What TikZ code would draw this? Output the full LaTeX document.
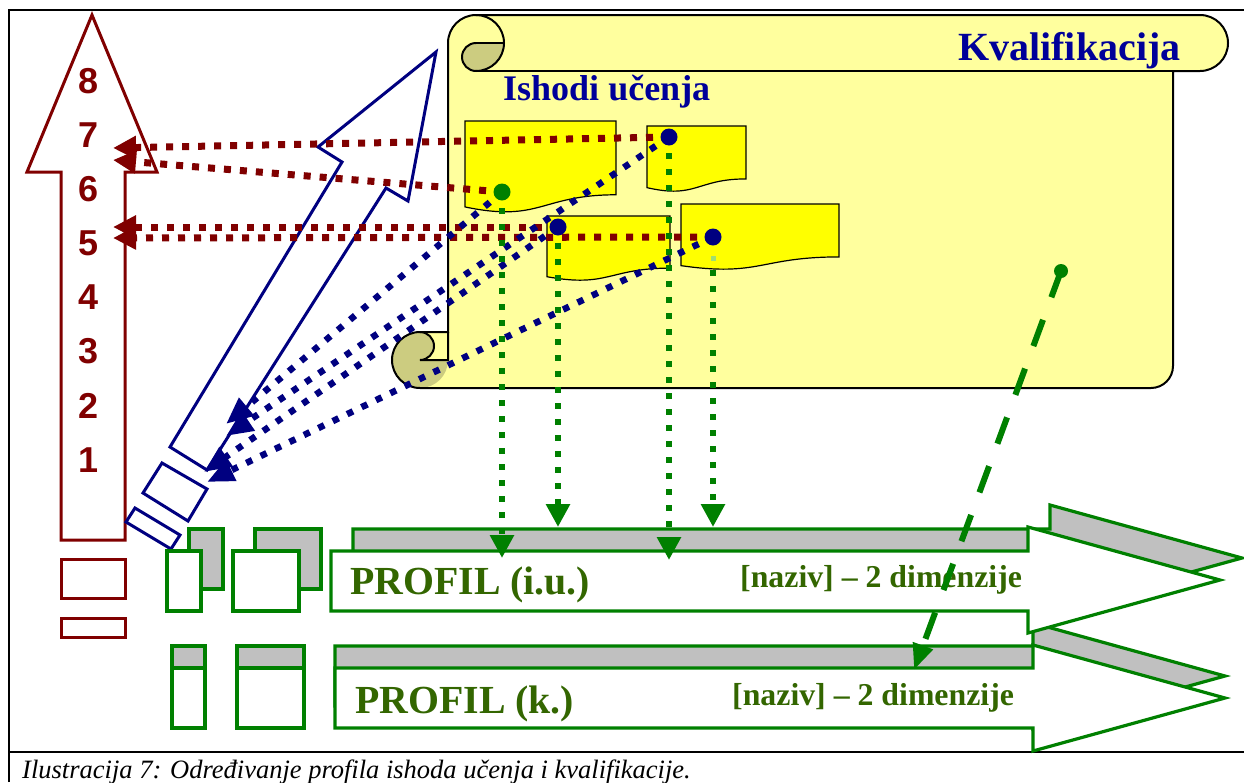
\documentclass[tikz,border=0pt]{standalone}
\usepackage{fontspec}
\setmainfont{Liberation Serif}
\newfontfamily\arialf{Liberation Sans}
\usetikzlibrary{arrows.meta}
\definecolor{mar}{HTML}{800000}
\definecolor{nav}{HTML}{000080}
\definecolor{grn}{HTML}{008000}
\definecolor{txg}{HTML}{336600}
\definecolor{txb}{HTML}{000099}
\definecolor{scy}{HTML}{FFFF9E}
\definecolor{khk}{HTML}{CCCC80}
\definecolor{docy}{HTML}{FFFF00}
\definecolor{gry}{HTML}{C0C0C0}
\definecolor{lgr}{HTML}{A0DD70}
\newcommand\docshape[4]{%
  \draw[docst] (#1,#2) -- ({#1+#3},#2) -- ({#1+#3},{#2+0.802*#4})
    .. controls ({#1+0.5*#3},{#2+0.802*#4}) and ({#1+0.5*#3},{#2+1.107*#4}) .. (#1,{#2+0.934*#4}) -- cycle;}
\tikzset{
  mtip/.tip={Triangle[length=23pt,width=22pt]},
  ntip/.tip={Triangle[length=27pt,width=22pt]},
  gtip/.tip={Triangle[length=23pt,width=23pt]},
  dtip/.tip={Triangle[length=26pt,width=20pt]},
  docst/.style={draw=black, line width=1.2pt, fill=docy},
  mdot/.style={mar, line width=7pt, dash pattern=on 7pt off 9pt, -mtip},
  ndot/.style={nav, line width=6.5pt, dash pattern=on 6.5pt off 9.5pt, -ntip},
  gdot/.style={grn, line width=6pt, dash pattern=on 6pt off 10pt, -gtip},
  gdash/.style={grn, line width=6pt, dash pattern=on 28pt off 24pt, -dtip},
  prof/.style={draw=grn, line width=3.2pt, fill=white},
  profb/.style={prof, fill=gry},
  num/.style={anchor=base, text=mar, font=\arialf\bfseries\fontsize{36pt}{40pt}\selectfont, inner sep=0pt},
  dotn/.style={circle, inner sep=0pt, minimum size=17pt},
  ptext/.style={anchor=base west, inner sep=0pt, text=txg, font=\bfseries\fontsize{39.8pt}{44pt}\selectfont},
  dtext/.style={anchor=base west, inner sep=0pt, text=txg, font=\bfseries\fontsize{31.8pt}{36pt}\selectfont},
  outl/.style={draw=black, line width=2pt},
}
\begin{document}
\begin{tikzpicture}[x=1pt,y=-1pt]
\useasboundingbox (0,0) rectangle (1244,782);
\fill[white] (0,0) rectangle (1244,782);
% frame
\draw[line width=2.5pt] (9,782) -- (9,10) -- (1250,10);
\draw[line width=2.5pt] (9,752) -- (1250,752);
\node[anchor=base west, inner sep=0pt, font=\itshape\fontsize{26.5pt}{30pt}\selectfont] (cap) at (22,778) {Ilustracija 7: Određivanje profila ishoda učenja i kvalifikacije.};

% scroll
\fill[scy] (448,43) arc[start angle=180,end angle=270,radius=28] -- (1200,15) arc[start angle=-90,end angle=90,radius=28] -- (1173,71) -- (1173,366) arc[start angle=0,end angle=90,radius=22] -- (420,388) arc[start angle=90,end angle=270,radius=28] -- (448,332) -- cycle;
\fill[khk] (420,360) circle[radius=28];
\fill[scy] (420,332) -- (448,332) -- (448,360) -- (420,360) arc[start angle=90,end angle=-90,radius=14] -- cycle;
\fill[khk] (476,43) -- (504,43) arc[start angle=0,end angle=90,radius=28] arc[start angle=90,end angle=270,radius=14] -- cycle;
\draw[outl] (448,43) arc[start angle=180,end angle=270,radius=28] -- (1200,15) arc[start angle=-90,end angle=90,radius=28] -- (1173,71) -- (1173,366) arc[start angle=0,end angle=90,radius=22] -- (420,388) arc[start angle=90,end angle=270,radius=28] -- (448,332) -- cycle;
\draw[outl] (476,71) -- (1200,71);
\draw[outl] (476,15) arc[start angle=-90,end angle=90,radius=28];
\draw[outl] (476,43) -- (504,43);
\draw[outl] (476,71) arc[start angle=90,end angle=270,radius=14];
\draw[outl] (448,332) -- (448,360) -- (420,360) arc[start angle=90,end angle=-90,radius=14];
\node[anchor=base west, inner sep=0pt, text=txb, font=\bfseries\fontsize{40pt}{44pt}\selectfont] (kv) at (958,60) {Kvalifikacija};
\node[anchor=base west, inner sep=0pt, text=txb, font=\bfseries\fontsize{36pt}{40pt}\selectfont] (iu) at (503,100) {Ishodi učenja};

% documents
\docshape{465}{121}{151}{92}
\docshape{647}{126}{99}{66}
\docshape{547}{216}{123}{65}
\docshape{681}{204}{158}{66}
\node[fill=lgr, minimum size=5pt, inner sep=0pt] (mk) at (713,258) {};

% maroon level arrow
\draw[mar, line width=3pt, line join=miter] (92,15) -- (157,172) -- (125,172) -- (125,540) -- (61,540) -- (61,172) -- (27,172) -- cycle;
\draw[mar, line width=3pt] (61,559) rectangle (125,598);
\draw[mar, line width=3pt] (61,618) rectangle (125,637);
\foreach \n/\y in {8/93,7/147,6/201,5/255,4/309,3/363,2/418,1/472}{
  \node[num] (n\n) at (89,\y) {\n};
}

% navy arrow
\draw[nav, line width=3pt] (436,52) -- (408,201) -- (386,188) -- (207,470) -- (170,447) -- (342,162) -- (318,147) -- cycle;
\draw[nav, line width=3pt] (162,463) -- (207,489) -- (188,521) -- (143,493) -- cycle;
\draw[nav, line width=3pt] (135,508) -- (180,535) -- (171,549) -- (126,522) -- cycle;

% profile row 2
\draw[profb] (172,646) rectangle (205,706);
\draw[prof] (172,668) rectangle (205,728);
\draw[profb] (237,646) rectangle (304,706);
\draw[prof] (237,668) rectangle (304,728);
\draw[profb] (335,646) -- (1033,646) -- (1033,623) -- (1225,676) -- (1033,729) -- (1033,706) -- (335,706) -- cycle;
\draw[prof] (335,668) -- (1033,668) -- (1033,645) -- (1225,698) -- (1033,751) -- (1033,728) -- (335,728) -- cycle;
% profile row 1
\draw[profb] (189,529) rectangle (223,589);
\draw[prof] (167,551) rectangle (201,611);
\draw[profb] (255,529) rectangle (321,589);
\draw[prof] (233,551) rectangle (299,611);
\draw[profb] (353,529) -- (1050,529) -- (1050,505) -- (1242,558) -- (1050,611) -- (1050,589) -- (353,589) -- cycle;
\draw[prof] (331,551) -- (1028,551) -- (1028,527) -- (1220,580) -- (1028,633) -- (1028,611) -- (331,611) -- cycle;
\node[ptext] (p1) at (350,594) {PROFIL (i.u.)};
\node[ptext] (p2) at (355,713) {PROFIL (k.)};
\node[dtext] (d1) at (740,587) {[naziv] – 2 dimenzije};
\node[dtext] (d2) at (732,705) {[naziv] – 2 dimenzije};

% dots (positions)
\coordinate (cg) at (502,192);
\coordinate (ca) at (669,137);
\coordinate (cb) at (558,227);
\coordinate (cc) at (713,237);
\coordinate (ck) at (1061,271);
% targets
\coordinate (t7a) at (113,148);
\coordinate (t7b) at (113,160);
\coordinate (t5a) at (113,227);
\coordinate (t5b) at (113,238);
\coordinate (ua) at (226,436);
\coordinate (ub) at (226,424);
\coordinate (uc) at (204,472);
\coordinate (ud) at (207,482);
\coordinate (gs4) at (713,270);
\coordinate (gt1) at (502,558);
\coordinate (gt2) at (558,527);
\coordinate (gt3) at (669,560);
\coordinate (gt4) at (713,527);
\coordinate (kt) at (914,670);

% maroon dotted
\draw[mdot] (ca) -- (t7a);
\draw[mdot] (cg) -- (t7b);
\draw[mdot] (cb) -- (t5a);
\draw[mdot] (cc) -- (t5b);
% navy dotted
\draw[ndot] (ca) -- (ua);
\draw[ndot] (cg) -- (ub);
\draw[ndot] (cb) -- (uc);
\draw[ndot] (cc) -- (ud);
% green dotted
\draw[gdot] (cg) -- (gt1);
\draw[gdot] (cb) -- (gt2);
\draw[gdot] (ca) -- (gt3);
\draw[gdot] (gs4) -- (gt4);
% green dashed
\draw[gdash] (ck) -- (kt);

\node[dotn, fill=grn] (g1) at (cg) {};
\node[dotn, fill=nav] (b1) at (ca) {};
\node[dotn, fill=nav] (b2) at (cb) {};
\node[dotn, fill=nav] (b3) at (cc) {};
\node[dotn, fill=grn, minimum size=14pt] (g2) at (ck) {};
\end{tikzpicture}
\end{document}
